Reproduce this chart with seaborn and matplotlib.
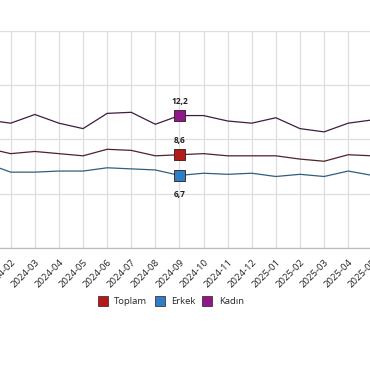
import pandas as pd
import matplotlib
matplotlib.use("Agg")
import matplotlib.pyplot as plt
from matplotlib.lines import Line2D
import seaborn as sns

# Aylik oranlar (%)
months = ["2024-01", "2024-02", "2024-03", "2024-04", "2024-05", "2024-06",
          "2024-07", "2024-08", "2024-09", "2024-10", "2024-11", "2024-12",
          "2025-01", "2025-02", "2025-03", "2025-04", "2025-05"]
toplam = [9.2, 8.7, 8.9, 8.7, 8.5, 9.1, 9.0, 8.5, 8.6, 8.7, 8.5, 8.5, 8.5, 8.2, 8.0, 8.6, 8.5]
erkek = [7.8, 7.0, 7.0, 7.1, 7.1, 7.4, 7.3, 7.2, 6.7, 6.9, 6.8, 6.9, 6.6, 6.8, 6.6, 7.1, 6.7]
kadin = [11.8, 11.5, 12.3, 11.5, 11.0, 12.4, 12.5, 11.4, 12.2, 12.2, 11.7, 11.5, 12.0, 11.0, 10.7, 11.5, 11.8]
series_names = ["Toplam", "Erkek", "Kadın"]
highlight = "2024-09"

marker_colors = {"Toplam": "#b31b1b", "Erkek": "#2a7fc6", "Kadın": "#8c1a8c"}
line_colors = {"Toplam": "#4e2329", "Erkek": "#2f5f7e", "Kadın": "#3f1d40"}

df = pd.DataFrame({"ay": months, "Toplam": toplam, "Erkek": erkek, "Kadın": kadin})
df["idx"] = range(len(df))
long_df = df.melt(id_vars=["ay", "idx"], value_vars=series_names,
                  var_name="seri", value_name="oran")

sns.set_style("white")
plt.rcParams["font.family"] = ["Open Sans", "DejaVu Sans"]

fig = plt.figure(figsize=(3.7, 3.8), dpi=100)
# eksen figurun disina tasiyor: grafik kirpilmis gibi gorunsun
ax = fig.add_axes([-0.0811, 0.3466, 1.1622, 0.5726])

sns.lineplot(data=long_df, x="idx", y="oran", hue="seri", palette=line_colors,
             linewidth=0.9, legend=False, ax=ax)

# secili ay icin kare isaretler
sel = long_df[long_df["ay"] == highlight]
sns.scatterplot(data=sel, x="idx", y="oran", hue="seri", palette=marker_colors,
                marker="s", s=60, edgecolor="#3a1515", linewidth=0.6,
                legend=False, ax=ax, zorder=5)

for _, r in sel.iterrows():
    dy = -14 if r["seri"] == "Erkek" else 10
    ax.annotate(f"{r['oran']:.1f}".replace(".", ","), (r["idx"], r["oran"]),
                xytext=(0, dy), textcoords="offset points", ha="center",
                va="center", fontsize=6, fontweight="bold", color="#222222")

ax.set_yticks([0, 5, 10, 15, 20])
ax.set_yticklabels([])
ax.set_xticks(df["idx"])
ax.set_xticklabels(months, rotation=45, ha="right", rotation_mode="anchor",
                   fontsize=6.8, color="#222222")
# gorunen pencere (tick'lerden sonra, yoksa genisliyor)
ax.set_xlim(-0.689, 17.15)
ax.set_ylim(0, 20)
ax.tick_params(axis="x", length=4, color="#bbbbbb", pad=3)
ax.tick_params(axis="y", length=0)
ax.grid(True, color="#dedede", linewidth=0.9)
ax.set_xlabel("")
ax.set_ylabel("")
for s in ["left", "right", "top"]:
    ax.spines[s].set_visible(False)
ax.spines["bottom"].set_color("#bbbbbb")
ax.spines["bottom"].set_linewidth(0.9)

handles = [Line2D([], [], marker="s", linestyle="", markersize=7,
                  markerfacecolor=marker_colors[n], markeredgecolor="#3a1515",
                  markeredgewidth=0.5, label=n) for n in series_names]
fig.legend(handles=handles, loc="center", bbox_to_anchor=(0.462, 0.206), ncol=3,
           frameon=False, fontsize=6.8, handletextpad=0.7, columnspacing=0.8,
           handlelength=1.0)

plt.savefig("out.png", dpi=100)
plt.close()
